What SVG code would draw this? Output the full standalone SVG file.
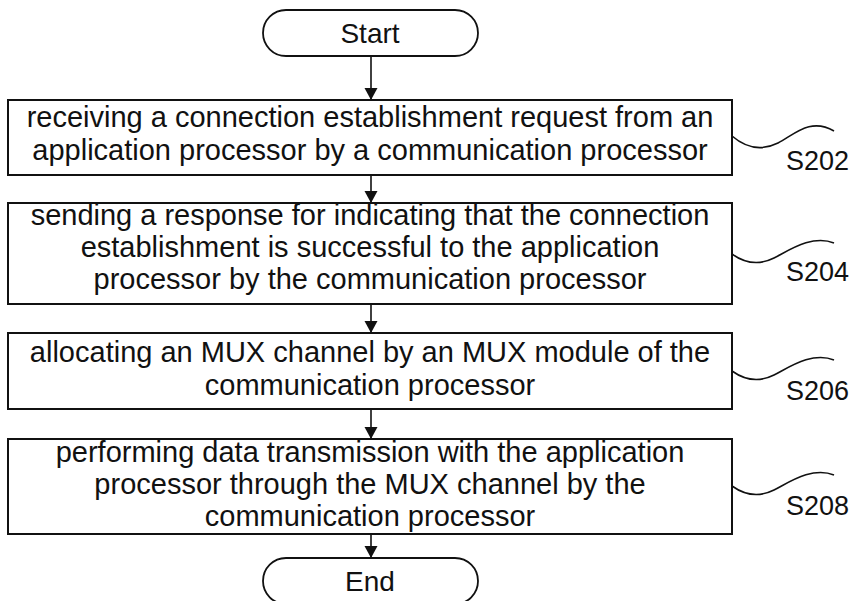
<svg xmlns="http://www.w3.org/2000/svg" width="855" height="601" viewBox="0 0 855 601">
  <defs>
    <style>
      .box { fill: #ffffff; stroke: #111111; stroke-width: 2; }
      .term { fill: #ffffff; stroke: #111111; stroke-width: 1.8; }
      .txt { font-family: "Liberation Sans", Arial, sans-serif; font-size: 29px; fill: #111111; text-anchor: middle; }
      .ttxt { font-family: "Liberation Sans", Arial, sans-serif; font-size: 28px; fill: #111111; text-anchor: middle; }
      .lbl { font-family: "Liberation Sans", Arial, sans-serif; font-size: 27px; fill: #111111; }
      .flow { stroke: #111111; stroke-width: 1.6; fill: none; marker-end: url(#arrow); }
      .lead { stroke: #111111; stroke-width: 1.6; fill: none; }
    </style>
    <marker id="arrow" markerUnits="userSpaceOnUse" markerWidth="14" markerHeight="14" refX="12" refY="6.5" orient="auto">
      <path d="M0,0 L12,6.5 L0,13 Z" fill="#111111"/>
    </marker>
  </defs>

  <rect width="855" height="601" fill="#ffffff"/>

  <!-- flow connectors -->
  <g id="connectors">
    <line class="flow" x1="371" y1="56" x2="371" y2="100"/>
    <line class="flow" x1="371" y1="175" x2="371" y2="203"/>
    <line class="flow" x1="371" y1="304" x2="371" y2="333"/>
    <line class="flow" x1="371" y1="409" x2="371" y2="439"/>
    <line class="flow" x1="371" y1="534" x2="371" y2="558"/>
  </g>

  <g id="start">
    <rect class="term" x="263" y="10" width="215" height="46" rx="23" ry="23"/>
    <text class="ttxt" x="370" y="43">Start</text>
  </g>

  <g id="s202">
    <rect class="box" x="8" y="100" width="724" height="75"/>
    <text class="txt" x="370" y="127">receiving a connection establishment request from an</text>
    <text class="txt" x="370" y="160">application processor by a communication processor</text>
    <path class="lead" d="M732,136 C746,148 762,151 778,143 S810,117 834,131"/>
    <text class="lbl" x="786" y="170">S202</text>
  </g>

  <g id="s204">
    <rect class="box" x="8" y="203" width="724" height="101"/>
    <text class="txt" x="370" y="225">sending a response for indicating that the connection</text>
    <text class="txt" x="370" y="257">establishment is successful to the application</text>
    <text class="txt" x="370" y="289">processor by the communication processor</text>
    <path class="lead" d="M732,254 C746,264 760,265 774,258 S812,234 834,243"/>
    <text class="lbl" x="786" y="281">S204</text>
  </g>

  <g id="s206">
    <rect class="box" x="8" y="333" width="724" height="76"/>
    <text class="txt" x="370" y="362">allocating an MUX channel by an MUX module of the</text>
    <text class="txt" x="370" y="395">communication processor</text>
    <path class="lead" d="M732,371 C746,381 760,382 774,375 S812,351 834,360"/>
    <text class="lbl" x="786" y="400">S206</text>
  </g>

  <g id="s208">
    <rect class="box" x="8" y="439" width="724" height="95"/>
    <text class="txt" x="370" y="462">performing data transmission with the application</text>
    <text class="txt" x="370" y="494">processor through the MUX channel by the</text>
    <text class="txt" x="370" y="526">communication processor</text>
    <path class="lead" d="M732,486 C746,496 760,497 774,490 S812,466 834,475"/>
    <text class="lbl" x="786" y="515">S208</text>
  </g>

  <g id="end">
    <rect class="term" x="263" y="558" width="215" height="46" rx="23" ry="23"/>
    <text class="ttxt" x="370" y="591">End</text>
  </g>
</svg>
